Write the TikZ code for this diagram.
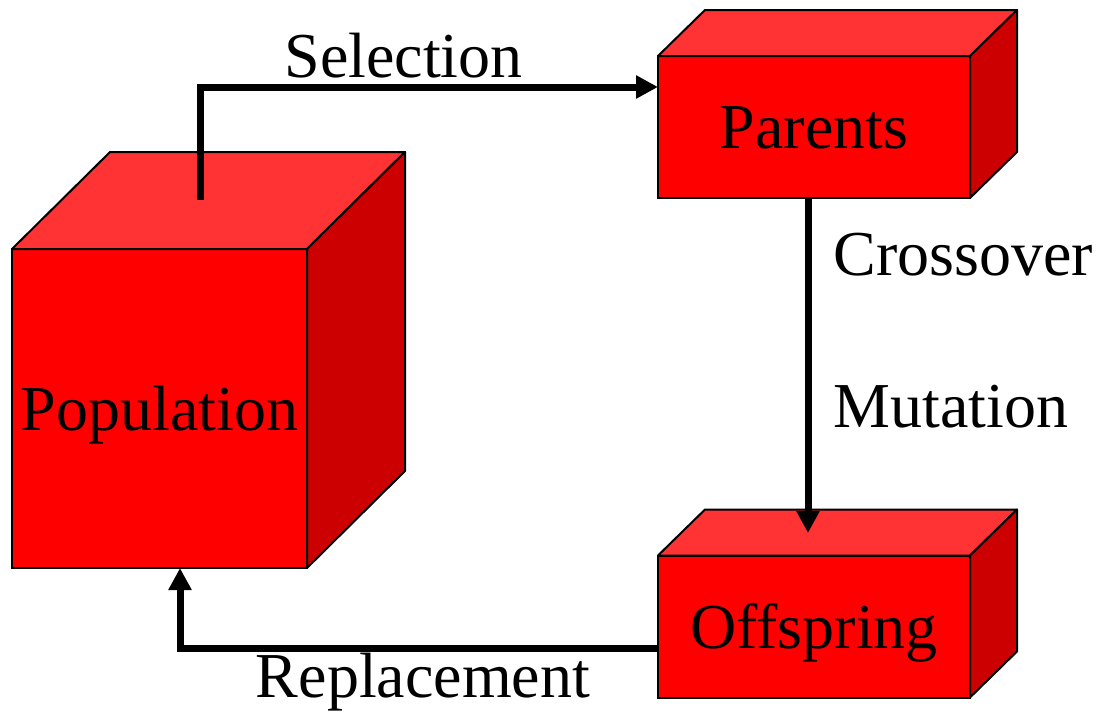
\documentclass[tikz,border=0pt]{standalone}
\usepackage{fontspec}
\setmainfont{Liberation Serif}
\usetikzlibrary{arrows.meta}
\definecolor{boxfront}{RGB}{255,0,0}
\definecolor{boxtop}{RGB}{255,51,51}
\definecolor{boxside}{RGB}{204,0,0}
\begin{document}
\begin{tikzpicture}[x=0.5pt, y=-0.5pt,
  face/.style={draw=black, line width=1pt, fill=boxfront, inner sep=0pt, outer sep=0pt,
    font=\fontsize{32}{38}\selectfont, text height=21.5pt, text depth=0pt},
  topface/.style={draw=black, line width=1pt, fill=boxtop, line join=round},
  sideface/.style={draw=black, line width=1pt, fill=boxside, line join=round},
  flow/.style={line width=3.5pt, -{Triangle[length=11pt,width=11pt]}},
  lbl/.style={font=\fontsize{32}{38}\selectfont, inner sep=0pt}]
\useasboundingbox (0,0) rectangle (1098,712);
% boxes
\node[face, minimum width=147.5pt, minimum height=159.5pt] (pop) at (159.5,408.5) {Population};
\node[face, minimum width=156pt, minimum height=71pt] (par) at (814,127) {Parents};
\node[face, minimum width=156pt, minimum height=71pt] (off) at (814,626.5) {Offspring};
% top and side faces
\path[topface] (pop.north west) -- ++(98,-97) -- ++(295,0) -- (pop.north east) -- cycle;
\path[sideface] (pop.north east) -- ++(98,-97) -- ++(0,319) -- (pop.south east) -- cycle;
\path[topface] (par.north west) -- ++(47,-46) -- ++(312,0) -- (par.north east) -- cycle;
\path[sideface] (par.north east) -- ++(47,-46) -- ++(0,142) -- (par.south east) -- cycle;
\path[topface] (off.north west) -- ++(47,-46) -- ++(312,0) -- (off.north east) -- cycle;
\path[sideface] (off.north east) -- ++(47,-46) -- ++(0,142) -- (off.south east) -- cycle;
% connectors
\coordinate (selfrom) at (200,200);
\coordinate (mutto) at (808,533);
\draw[flow] (selfrom) |- ([yshift=20pt]par.west);
\draw[flow] ([xshift=-3pt]par.south) -- (mutto);
\draw[flow] ([yshift=-10.75pt]off.west) -| ([xshift=10.25pt]pop.south);
% labels
\node[lbl, anchor=base] (sel) at (403.5,77) {Selection};
\node[lbl, anchor=base west] (cro) at (833,275) {Crossover};
\node[lbl, anchor=base west] (mut) at (833,427) {Mutation};
\node[lbl, anchor=base] (rep) at (423,697) {Replacement};
\end{tikzpicture}
\end{document}
